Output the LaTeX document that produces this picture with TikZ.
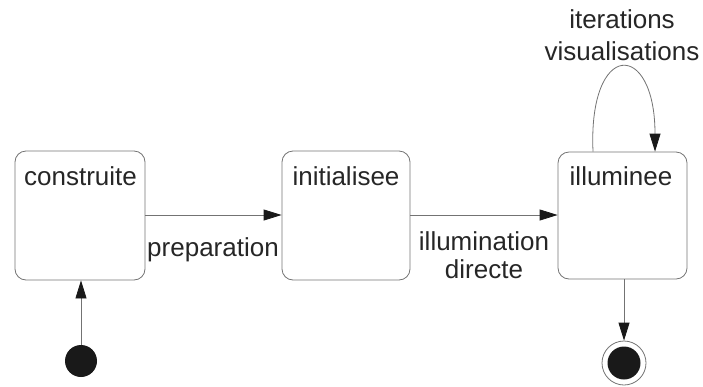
\documentclass[tikz,border=0pt]{standalone}
\usepackage{fontspec}
\setmainfont{Liberation Sans}
\usetikzlibrary{arrows.meta}
\begin{document}
\begin{tikzpicture}[x=1pt,y=-1pt,
  statebox/.style={draw=black!55, line width=0.8pt, rounded corners=11pt, minimum width=130pt, minimum height=129pt, inner sep=0pt},
  txt/.style={anchor=base, inner sep=0pt, text=black!85, font=\fontsize{26}{30}\selectfont},
  conn/.style={draw=black!55, line width=0.8pt, -{Triangle[length=18pt,width=11pt,black!90]}},
  dot/.style={circle, fill=black!90, inner sep=0pt}
]
\useasboundingbox (0,0) rectangle (703,386);
% states
\node[statebox] (cbox) at (80,215.5) {};
\node[statebox, minimum width=128pt] (ibox) at (346,215.5) {};
\node[statebox, minimum width=129pt, minimum height=127pt] (lbox) at (622.5,215.5) {};
\node[txt] (ct) at (80.5,185) {construite};
\node[txt] (it) at (346,185) {initialisee};
\node[txt] (lt) at (621,185) {illuminee};
% initial and final states
\node[dot, minimum size=32pt] (ini) at (81,361) {};
\node[circle, draw=black!55, line width=0.8pt, minimum size=44pt, inner sep=0pt] (fin) at (624,363) {};
\node[dot, minimum size=33pt] (finin) at (624,363) {};
% transitions
\draw[conn] (ini) -- (ini |- cbox.south);
\draw[conn] (cbox.east |- 0,215) -- (ibox.west |- 0,215);
\draw[conn] (ibox.east |- 0,215) -- (lbox.west |- 0,215);
\draw[conn] (fin.north |- lbox.south) -- (fin.north);
\draw[conn] ([xshift=-29.5pt]lbox.north) .. controls ([xshift=-34.5pt,yshift=112pt]lbox.north) and ([xshift=32.5pt,yshift=112pt]lbox.north) .. ([xshift=32.5pt]lbox.north);
% labels
\node[txt] (lprep) at (213,256) {preparation};
\node[txt] (lill) at (484,250) {illumination};
\node[txt] (ldir) at (484,278) {directe};
\node[txt] (liter) at (622,28) {iterations};
\node[txt] (lvis) at (622,60) {visualisations};
\end{tikzpicture}
\end{document}
